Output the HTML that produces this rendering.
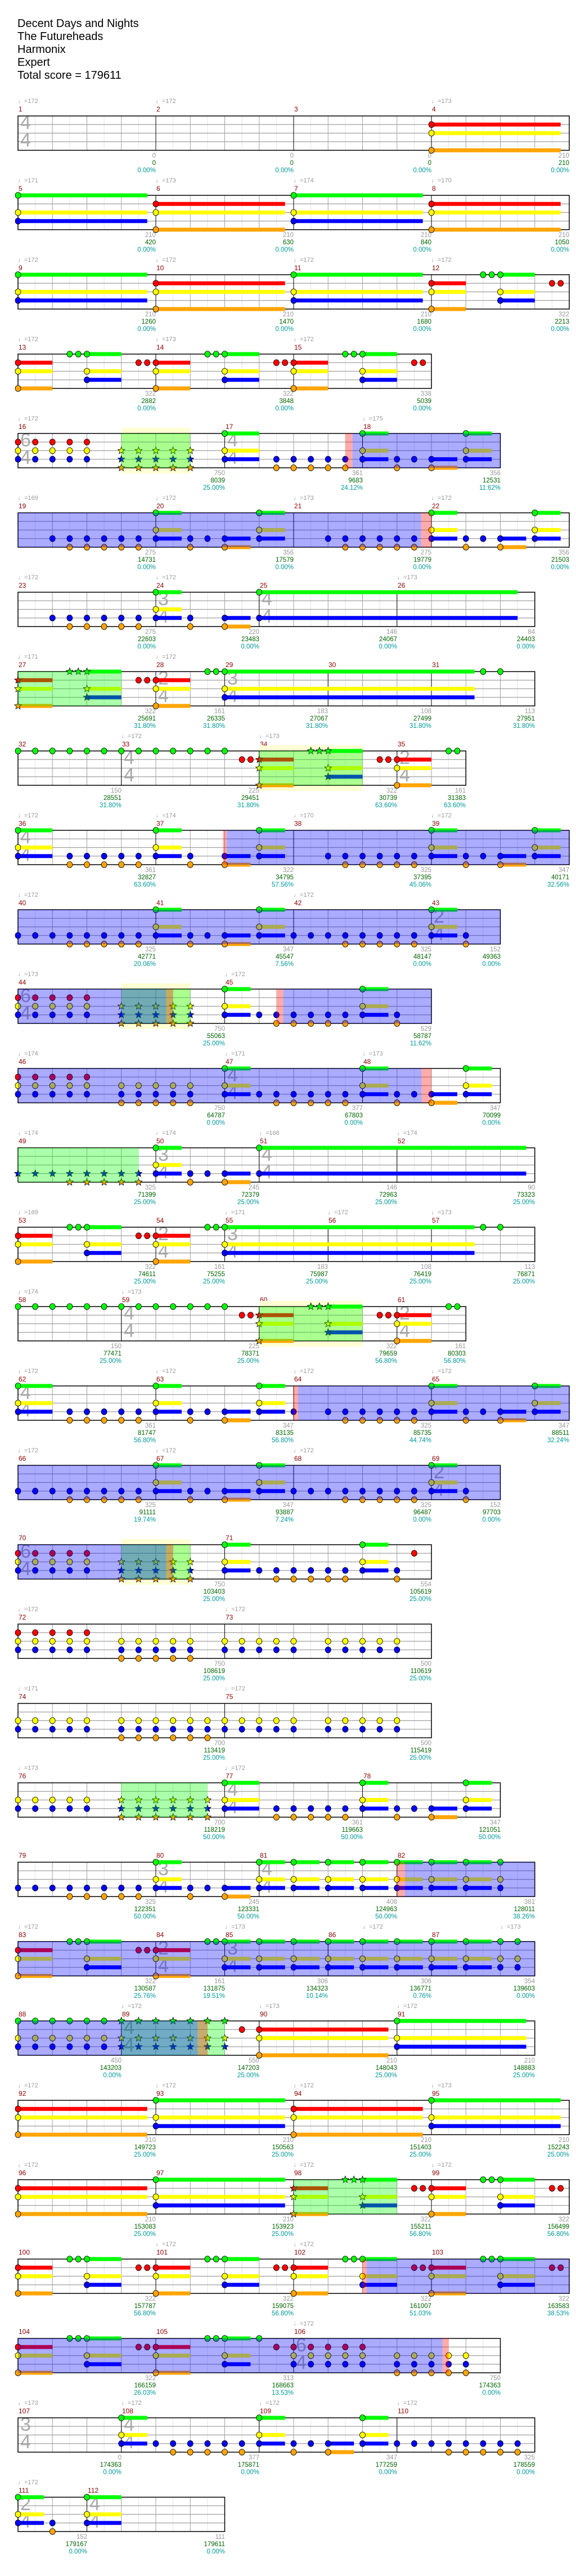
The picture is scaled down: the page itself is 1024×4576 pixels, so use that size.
<!DOCTYPE html>
<html><head><meta charset="utf-8">
<style>
body{margin:0;background:#fff}
#pg{position:relative;width:1024px;height:4576px;overflow:hidden;background:#fff;font-family:"Liberation Sans Narrow","Liberation Sans",sans-serif}
#ttl{position:absolute;left:31px;top:31px;font-size:20px;line-height:23px;color:#000;font-family:"Liberation Sans",sans-serif}
.r{position:absolute;left:0;width:1024px;height:141px}
.r p{position:absolute;margin:0;white-space:nowrap}
.t{top:-7px;font-size:11px;line-height:13px;color:#999}
.m{top:6px;font-size:12px;line-height:14px;color:#8b0000}
.s{top:90px;font-size:11.5px;line-height:13px;color:#999;text-align:right;transform:translateX(-100%)}
.s i{font-style:normal;color:#006400}.s b{font-weight:normal;color:#009999}
.r div.ts{position:absolute;top:22px;font-size:34px;line-height:31px;color:#aaa;font-family:"Liberation Sans",sans-serif}
#sv{position:absolute;left:0;top:0}
</style></head><body><div id="pg">
<div id="ttl">Decent Days and Nights<br>The Futureheads<br>Harmonix<br>Expert<br>Total score = 179611</div>

<div class="r" style="top:181px"><div class="ts" style="left:36px">4<br>4</div>
<p class="t" style="left:32px">♩=172</p><p class="t" style="left:277px">♩=172</p><p class="t" style="left:767px">♩=173</p>
<p class="m" style="left:33px">1</p><p class="m" style="left:278px">2</p><p class="m" style="left:523px">3</p><p class="m" style="left:768px">4</p>
<p class="s" style="left:277px">0<br><i>0</i><br><b>0.00%</b></p><p class="s" style="left:522px">0<br><i>0</i><br><b>0.00%</b></p><p class="s" style="left:767px">0<br><i>0</i><br><b>0.00%</b></p><p class="s" style="left:1012px">210<br><i>210</i><br><b>0.00%</b></p></div>

<div class="r" style="top:322px">
<p class="t" style="left:32px">♩=171</p><p class="t" style="left:277px">♩=173</p><p class="t" style="left:522px">♩=174</p><p class="t" style="left:767px">♩=170</p>
<p class="m" style="left:33px">5</p><p class="m" style="left:278px">6</p><p class="m" style="left:523px">7</p><p class="m" style="left:768px">8</p>
<p class="s" style="left:277px">210<br><i>420</i><br><b>0.00%</b></p><p class="s" style="left:522px">210<br><i>630</i><br><b>0.00%</b></p><p class="s" style="left:767px">210<br><i>840</i><br><b>0.00%</b></p><p class="s" style="left:1012px">210<br><i>1050</i><br><b>0.00%</b></p></div>

<div class="r" style="top:463px">
<p class="t" style="left:32px">♩=172</p><p class="t" style="left:277px">♩=172</p><p class="t" style="left:522px">♩=172</p><p class="t" style="left:767px">♩=172</p>
<p class="m" style="left:33px">9</p><p class="m" style="left:278px">10</p><p class="m" style="left:523px">11</p><p class="m" style="left:768px">12</p>
<p class="s" style="left:277px">210<br><i>1260</i><br><b>0.00%</b></p><p class="s" style="left:522px">210<br><i>1470</i><br><b>0.00%</b></p><p class="s" style="left:767px">210<br><i>1680</i><br><b>0.00%</b></p><p class="s" style="left:1012px">322<br><i>2213</i><br><b>0.00%</b></p></div>

<div class="r" style="top:604px">
<p class="t" style="left:32px">♩=172</p><p class="t" style="left:277px">♩=173</p><p class="t" style="left:522px">♩=172</p>
<p class="m" style="left:33px">13</p><p class="m" style="left:278px">14</p><p class="m" style="left:523px">15</p>
<p class="s" style="left:277px">322<br><i>2882</i><br><b>0.00%</b></p><p class="s" style="left:522px">322<br><i>3848</i><br><b>0.00%</b></p><p class="s" style="left:767px">338<br><i>5039</i><br><b>0.00%</b></p></div>

<div class="r" style="top:745px"><div class="ts" style="left:36px">6<br>4</div><div class="ts" style="left:404px">4<br>4</div>
<p class="t" style="left:32px">♩=172</p><p class="t" style="left:645px">♩=175</p>
<p class="m" style="left:33px">16</p><p class="m" style="left:401px">17</p><p class="m" style="left:646px">18</p>
<p class="s" style="left:400px">750<br><i>8039</i><br><b>25.00%</b></p><p class="s" style="left:645px">361<br><i>9683</i><br><b>24.12%</b></p><p class="s" style="left:890px">356<br><i>12531</i><br><b>11.62%</b></p></div>

<div class="r" style="top:886px">
<p class="t" style="left:32px">♩=169</p><p class="t" style="left:277px">♩=172</p><p class="t" style="left:522px">♩=173</p><p class="t" style="left:767px">♩=172</p>
<p class="m" style="left:33px">19</p><p class="m" style="left:278px">20</p><p class="m" style="left:523px">21</p><p class="m" style="left:768px">22</p>
<p class="s" style="left:277px">275<br><i>14731</i><br><b>0.00%</b></p><p class="s" style="left:522px">356<br><i>17579</i><br><b>0.00%</b></p><p class="s" style="left:767px">275<br><i>19779</i><br><b>0.00%</b></p><p class="s" style="left:1012px">356<br><i>21503</i><br><b>0.00%</b></p></div>

<div class="r" style="top:1027px"><div class="ts" style="left:281px">3<br>4</div><div class="ts" style="left:465px">4<br>4</div>
<p class="t" style="left:32px">♩=172</p><p class="t" style="left:277px">♩=172</p><p class="t" style="left:706px">♩=173</p>
<p class="m" style="left:33px">23</p><p class="m" style="left:278px">24</p><p class="m" style="left:462px">25</p><p class="m" style="left:707px">26</p>
<p class="s" style="left:277px">275<br><i>22603</i><br><b>0.00%</b></p><p class="s" style="left:461px">220<br><i>23483</i><br><b>0.00%</b></p><p class="s" style="left:706px">146<br><i>24067</i><br><b>0.00%</b></p><p class="s" style="left:951px">84<br><i>24403</i><br><b>0.00%</b></p></div>

<div class="r" style="top:1168px"><div class="ts" style="left:281px">2<br>4</div><div class="ts" style="left:404px">3<br>4</div>
<p class="t" style="left:32px">♩=171</p><p class="t" style="left:277px">♩=172</p>
<p class="m" style="left:33px">27</p><p class="m" style="left:278px">28</p><p class="m" style="left:401px">29</p><p class="m" style="left:584px">30</p><p class="m" style="left:768px">31</p>
<p class="s" style="left:277px">322<br><i>25691</i><br><b>31.80%</b></p><p class="s" style="left:400px">161<br><i>26335</i><br><b>31.80%</b></p><p class="s" style="left:583px">183<br><i>27067</i><br><b>31.80%</b></p><p class="s" style="left:767px">108<br><i>27499</i><br><b>31.80%</b></p><p class="s" style="left:951px">113<br><i>27951</i><br><b>31.80%</b></p></div>

<div class="r" style="top:1309px"><div class="ts" style="left:220px">4<br>4</div><div class="ts" style="left:710px">2<br>4</div>
<p class="t" style="left:216px">♩=172</p><p class="t" style="left:461px">♩=173</p>
<p class="m" style="left:33px">32</p><p class="m" style="left:217px">33</p><p class="m" style="left:462px">34</p><p class="m" style="left:707px">35</p>
<p class="s" style="left:216px">150<br><i>28551</i><br><b>31.80%</b></p><p class="s" style="left:461px">225<br><i>29451</i><br><b>31.80%</b></p><p class="s" style="left:706px">322<br><i>30739</i><br><b>63.60%</b></p><p class="s" style="left:828px">161<br><i>31383</i><br><b>63.60%</b></p></div>

<div class="r" style="top:1450px"><div class="ts" style="left:36px">4<br>4</div>
<p class="t" style="left:32px">♩=172</p><p class="t" style="left:277px">♩=174</p><p class="t" style="left:522px">♩=170</p><p class="t" style="left:767px">♩=172</p>
<p class="m" style="left:33px">36</p><p class="m" style="left:278px">37</p><p class="m" style="left:523px">38</p><p class="m" style="left:768px">39</p>
<p class="s" style="left:277px">361<br><i>32827</i><br><b>63.60%</b></p><p class="s" style="left:522px">322<br><i>34795</i><br><b>57.56%</b></p><p class="s" style="left:767px">325<br><i>37395</i><br><b>45.06%</b></p><p class="s" style="left:1012px">347<br><i>40171</i><br><b>32.56%</b></p></div>

<div class="r" style="top:1591px"><div class="ts" style="left:771px">2<br>4</div>
<p class="t" style="left:32px">♩=172</p><p class="t" style="left:522px">♩=172</p>
<p class="m" style="left:33px">40</p><p class="m" style="left:278px">41</p><p class="m" style="left:523px">42</p><p class="m" style="left:768px">43</p>
<p class="s" style="left:277px">325<br><i>42771</i><br><b>20.06%</b></p><p class="s" style="left:522px">347<br><i>45547</i><br><b>7.56%</b></p><p class="s" style="left:767px">325<br><i>48147</i><br><b>0.00%</b></p><p class="s" style="left:890px">152<br><i>49363</i><br><b>0.00%</b></p></div>

<div class="r" style="top:1732px"><div class="ts" style="left:36px">6<br>4</div>
<p class="t" style="left:32px">♩=173</p><p class="t" style="left:400px">♩=172</p>
<p class="m" style="left:33px">44</p><p class="m" style="left:401px">45</p>
<p class="s" style="left:400px">750<br><i>55063</i><br><b>25.00%</b></p><p class="s" style="left:767px">529<br><i>58787</i><br><b>11.62%</b></p></div>

<div class="r" style="top:1873px"><div class="ts" style="left:404px">4<br>4</div>
<p class="t" style="left:32px">♩=174</p><p class="t" style="left:400px">♩=171</p><p class="t" style="left:645px">♩=173</p>
<p class="m" style="left:33px">46</p><p class="m" style="left:401px">47</p><p class="m" style="left:646px">48</p>
<p class="s" style="left:400px">750<br><i>64787</i><br><b>0.00%</b></p><p class="s" style="left:645px">377<br><i>67803</i><br><b>0.00%</b></p><p class="s" style="left:890px">347<br><i>70099</i><br><b>0.00%</b></p></div>

<div class="r" style="top:2014px"><div class="ts" style="left:281px">3<br>4</div><div class="ts" style="left:465px">4<br>4</div>
<p class="t" style="left:32px">♩=174</p><p class="t" style="left:277px">♩=174</p><p class="t" style="left:461px">♩=168</p><p class="t" style="left:706px">♩=174</p>
<p class="m" style="left:33px">49</p><p class="m" style="left:278px">50</p><p class="m" style="left:462px">51</p><p class="m" style="left:707px">52</p>
<p class="s" style="left:277px">325<br><i>71399</i><br><b>25.00%</b></p><p class="s" style="left:461px">245<br><i>72379</i><br><b>25.00%</b></p><p class="s" style="left:706px">146<br><i>72963</i><br><b>25.00%</b></p><p class="s" style="left:951px">90<br><i>73323</i><br><b>25.00%</b></p></div>

<div class="r" style="top:2155px"><div class="ts" style="left:281px">2<br>4</div><div class="ts" style="left:404px">3<br>4</div>
<p class="t" style="left:32px">♩=169</p><p class="t" style="left:400px">♩=171</p><p class="t" style="left:583px">♩=172</p><p class="t" style="left:767px">♩=173</p>
<p class="m" style="left:33px">53</p><p class="m" style="left:278px">54</p><p class="m" style="left:401px">55</p><p class="m" style="left:584px">56</p><p class="m" style="left:768px">57</p>
<p class="s" style="left:277px">322<br><i>74611</i><br><b>25.00%</b></p><p class="s" style="left:400px">161<br><i>75255</i><br><b>25.00%</b></p><p class="s" style="left:583px">183<br><i>75987</i><br><b>25.00%</b></p><p class="s" style="left:767px">108<br><i>76419</i><br><b>25.00%</b></p><p class="s" style="left:951px">113<br><i>76871</i><br><b>25.00%</b></p></div>

<div class="r" style="top:2296px"><div class="ts" style="left:220px">4<br>4</div><div class="ts" style="left:710px">2<br>4</div>
<p class="t" style="left:32px">♩=174</p><p class="t" style="left:216px">♩=173</p>
<p class="m" style="left:33px">58</p><p class="m" style="left:217px">59</p><p class="m" style="left:462px">60</p><p class="m" style="left:707px">61</p>
<p class="s" style="left:216px">150<br><i>77471</i><br><b>25.00%</b></p><p class="s" style="left:461px">225<br><i>78371</i><br><b>25.00%</b></p><p class="s" style="left:706px">322<br><i>79659</i><br><b>56.80%</b></p><p class="s" style="left:828px">161<br><i>80303</i><br><b>56.80%</b></p></div>

<div class="r" style="top:2437px"><div class="ts" style="left:36px">4<br>4</div>
<p class="t" style="left:32px">♩=172</p><p class="t" style="left:277px">♩=172</p><p class="t" style="left:522px">♩=172</p><p class="t" style="left:767px">♩=172</p>
<p class="m" style="left:33px">62</p><p class="m" style="left:278px">63</p><p class="m" style="left:523px">64</p><p class="m" style="left:768px">65</p>
<p class="s" style="left:277px">361<br><i>81747</i><br><b>56.80%</b></p><p class="s" style="left:522px">347<br><i>83135</i><br><b>56.80%</b></p><p class="s" style="left:767px">325<br><i>85735</i><br><b>44.74%</b></p><p class="s" style="left:1012px">347<br><i>88511</i><br><b>32.24%</b></p></div>

<div class="r" style="top:2578px"><div class="ts" style="left:771px">2<br>4</div>
<p class="t" style="left:32px">♩=172</p><p class="t" style="left:277px">♩=172</p><p class="t" style="left:522px">♩=172</p>
<p class="m" style="left:33px">66</p><p class="m" style="left:278px">67</p><p class="m" style="left:523px">68</p><p class="m" style="left:768px">69</p>
<p class="s" style="left:277px">325<br><i>91111</i><br><b>19.74%</b></p><p class="s" style="left:522px">347<br><i>93887</i><br><b>7.24%</b></p><p class="s" style="left:767px">325<br><i>96487</i><br><b>0.00%</b></p><p class="s" style="left:890px">152<br><i>97703</i><br><b>0.00%</b></p></div>

<div class="r" style="top:2719px"><div class="ts" style="left:36px">6<br>4</div>
<p class="m" style="left:33px">70</p><p class="m" style="left:401px">71</p>
<p class="s" style="left:400px">750<br><i>103403</i><br><b>25.00%</b></p><p class="s" style="left:767px">554<br><i>105619</i><br><b>25.00%</b></p></div>

<div class="r" style="top:2860px">
<p class="t" style="left:32px">♩=172</p><p class="t" style="left:400px">♩=172</p>
<p class="m" style="left:33px">72</p><p class="m" style="left:401px">73</p>
<p class="s" style="left:400px">750<br><i>108619</i><br><b>25.00%</b></p><p class="s" style="left:767px">500<br><i>110619</i><br><b>25.00%</b></p></div>

<div class="r" style="top:3001px">
<p class="t" style="left:32px">♩=171</p><p class="t" style="left:400px">♩=172</p>
<p class="m" style="left:33px">74</p><p class="m" style="left:401px">75</p>
<p class="s" style="left:400px">700<br><i>113419</i><br><b>25.00%</b></p><p class="s" style="left:767px">500<br><i>115419</i><br><b>25.00%</b></p></div>

<div class="r" style="top:3142px"><div class="ts" style="left:404px">4<br>4</div>
<p class="t" style="left:32px">♩=173</p><p class="t" style="left:400px">♩=172</p>
<p class="m" style="left:33px">76</p><p class="m" style="left:401px">77</p><p class="m" style="left:646px">78</p>
<p class="s" style="left:400px">700<br><i>118219</i><br><b>50.00%</b></p><p class="s" style="left:645px">361<br><i>119663</i><br><b>50.00%</b></p><p class="s" style="left:890px">347<br><i>121051</i><br><b>50.00%</b></p></div>

<div class="r" style="top:3283px"><div class="ts" style="left:281px">3<br>4</div><div class="ts" style="left:465px">4<br>4</div>
<p class="m" style="left:33px">79</p><p class="m" style="left:278px">80</p><p class="m" style="left:462px">81</p><p class="m" style="left:707px">82</p>
<p class="s" style="left:277px">325<br><i>122351</i><br><b>50.00%</b></p><p class="s" style="left:461px">245<br><i>123331</i><br><b>50.00%</b></p><p class="s" style="left:706px">408<br><i>124963</i><br><b>50.00%</b></p><p class="s" style="left:951px">381<br><i>128011</i><br><b>38.26%</b></p></div>

<div class="r" style="top:3424px"><div class="ts" style="left:281px">2<br>4</div><div class="ts" style="left:404px">3<br>4</div>
<p class="t" style="left:32px">♩=172</p><p class="t" style="left:400px">♩=173</p><p class="t" style="left:645px">♩=172</p><p class="t" style="left:890px">♩=173</p>
<p class="m" style="left:33px">83</p><p class="m" style="left:278px">84</p><p class="m" style="left:401px">85</p><p class="m" style="left:584px">86</p><p class="m" style="left:768px">87</p>
<p class="s" style="left:277px">322<br><i>130587</i><br><b>25.76%</b></p><p class="s" style="left:400px">161<br><i>131875</i><br><b>19.51%</b></p><p class="s" style="left:583px">306<br><i>134323</i><br><b>10.14%</b></p><p class="s" style="left:767px">306<br><i>136771</i><br><b>0.76%</b></p><p class="s" style="left:951px">354<br><i>139603</i><br><b>0.00%</b></p></div>

<div class="r" style="top:3565px"><div class="ts" style="left:220px">4<br>4</div>
<p class="t" style="left:216px">♩=172</p><p class="t" style="left:461px">♩=173</p><p class="t" style="left:706px">♩=172</p>
<p class="m" style="left:33px">88</p><p class="m" style="left:217px">89</p><p class="m" style="left:462px">90</p><p class="m" style="left:707px">91</p>
<p class="s" style="left:216px">450<br><i>143203</i><br><b>0.00%</b></p><p class="s" style="left:461px">550<br><i>147203</i><br><b>25.00%</b></p><p class="s" style="left:706px">210<br><i>148043</i><br><b>25.00%</b></p><p class="s" style="left:951px">210<br><i>148883</i><br><b>25.00%</b></p></div>

<div class="r" style="top:3706px">
<p class="t" style="left:32px">♩=172</p><p class="t" style="left:277px">♩=172</p><p class="t" style="left:522px">♩=172</p><p class="t" style="left:767px">♩=173</p>
<p class="m" style="left:33px">92</p><p class="m" style="left:278px">93</p><p class="m" style="left:523px">94</p><p class="m" style="left:768px">95</p>
<p class="s" style="left:277px">210<br><i>149723</i><br><b>25.00%</b></p><p class="s" style="left:522px">210<br><i>150563</i><br><b>25.00%</b></p><p class="s" style="left:767px">210<br><i>151403</i><br><b>25.00%</b></p><p class="s" style="left:1012px">210<br><i>152243</i><br><b>25.00%</b></p></div>

<div class="r" style="top:3847px">
<p class="t" style="left:32px">♩=172</p><p class="t" style="left:522px">♩=172</p><p class="t" style="left:767px">♩=172</p>
<p class="m" style="left:33px">96</p><p class="m" style="left:278px">97</p><p class="m" style="left:523px">98</p><p class="m" style="left:768px">99</p>
<p class="s" style="left:277px">210<br><i>153083</i><br><b>25.00%</b></p><p class="s" style="left:522px">210<br><i>153923</i><br><b>25.00%</b></p><p class="s" style="left:767px">322<br><i>155211</i><br><b>56.80%</b></p><p class="s" style="left:1012px">322<br><i>156499</i><br><b>56.80%</b></p></div>

<div class="r" style="top:3988px">
<p class="t" style="left:277px">♩=172</p><p class="t" style="left:522px">♩=172</p>
<p class="m" style="left:33px">100</p><p class="m" style="left:278px">101</p><p class="m" style="left:523px">102</p><p class="m" style="left:768px">103</p>
<p class="s" style="left:277px">322<br><i>157787</i><br><b>56.80%</b></p><p class="s" style="left:522px">322<br><i>159075</i><br><b>56.80%</b></p><p class="s" style="left:767px">322<br><i>161007</i><br><b>51.03%</b></p><p class="s" style="left:1012px">322<br><i>163583</i><br><b>38.53%</b></p></div>

<div class="r" style="top:4129px"><div class="ts" style="left:526px">6<br>4</div>
<p class="t" style="left:522px">♩=172</p>
<p class="m" style="left:33px">104</p><p class="m" style="left:278px">105</p><p class="m" style="left:523px">106</p>
<p class="s" style="left:277px">322<br><i>166159</i><br><b>26.03%</b></p><p class="s" style="left:522px">313<br><i>168663</i><br><b>13.53%</b></p><p class="s" style="left:890px">750<br><i>174363</i><br><b>0.00%</b></p></div>

<div class="r" style="top:4270px"><div class="ts" style="left:36px">3<br>4</div><div class="ts" style="left:220px">4<br>4</div>
<p class="t" style="left:32px">♩=173</p><p class="t" style="left:216px">♩=172</p><p class="t" style="left:461px">♩=172</p><p class="t" style="left:706px">♩=172</p>
<p class="m" style="left:33px">107</p><p class="m" style="left:217px">108</p><p class="m" style="left:462px">109</p><p class="m" style="left:707px">110</p>
<p class="s" style="left:216px">0<br><i>174363</i><br><b>0.00%</b></p><p class="s" style="left:461px">377<br><i>175871</i><br><b>0.00%</b></p><p class="s" style="left:706px">347<br><i>177259</i><br><b>0.00%</b></p><p class="s" style="left:951px">325<br><i>178559</i><br><b>0.00%</b></p></div>

<div class="r" style="top:4411px"><div class="ts" style="left:36px">2<br>4</div><div class="ts" style="left:159px">4<br>4</div>
<p class="t" style="left:32px">♩=172</p>
<p class="m" style="left:33px">111</p><p class="m" style="left:156px">112</p>
<p class="s" style="left:155px">152<br><i>179167</i><br><b>0.00%</b></p><p class="s" style="left:400px">111<br><i>179611</i><br><b>0.00%</b></p></div>

<svg id="sv" width="1024" height="4576" xmlns="http://www.w3.org/2000/svg"></svg>
</div>
<script>
(function(){
const X=b=>32+61.25*b;
const A=o=>` B${o+1}~${o+3.5} O${o+1.5}~${o+3.5} `;
const P=o=>` GYB${o}:.75 B${o+1} B${o+1.5} O${o+1} BO${o+2}:.75 GYB${o+3}:.75 `;
const H=(o,s='')=>` ${s}RYO${o}:1 ${s}G${o+1.5} ${s}G${o+1.75} ${s}GYB${o+2}:1 R${o+3.5} R${o+3.75} `;
const R8="G0~6 R6.5 R6.75 "+H(7,'*')+" RYO11:1 G12.5 G12.75";
let g81="";for(let b=7;b<=13;b++)g81+=` GYB${b}:.75`;
let g85="";for(let b=6;b<=13;b++)g85+=` GYB${b}:.75`;
const rows=[
[16,[4,8,12],[],"RYO12:3.75"],
[16,[4,8,12],[],"GYB0:3.75 RYO4:3.75 GYB8:3.75 RYO12:3.75"],
[16,[4,8,12],[],"GYB0:3.75 RYO4:3.75 GYB8:3.75"+H(12)],
[12,[4,8],[],H(0)+H(4)+H(8)],
[14,[6,10],[['y',3,5],['g',3,5],['p',9.5,9.71],['b',9.71,14]],"RYB0~2 *YBO3~5 GYB6:1 BO7.5~9.5"+P(10)],
[16,[4,8,12],[['b',0,11.7],['p',11.7,12]],A(0)+P(4)+A(8)+P(12)],
[15,[4,7,11],[],A(0)+"GYB4:.75 B5 O5 BO6:.75 GB7:7.5"],
[15,[4,6,9,12],[['g',0,3]],H(0,'*')+"RYO4:1 G5.5 G5.75 GYB6:7.25 G13.5 G14"],
[13,[3,7,11],[['y',7,10],['g',7,10]],R8],
[16,[4,8,12],[['p',5.95,6.06],['b',6.06,16]],"GYB0:1 B1.5~3.5 O1.5~3.5 GYB4:.75 B5 O5 BO6:.75 GYB7:.75"+A(8)+P(12)],
[14,[4,8,12],[['b',0,14]],"B0~3.5 O1.5~3.5"+P(4)+"B8~11.5 O9.5~11.5 GYB12:.75 B13 O13"],
[12,[6],[['y',3,5],['g',3,5],['b',0,4.3],['p',4.3,4.5],['p',7.5,7.7],['b',7.7,12]],"RYB0~2 *YBO3~5 GYB6:.75 B7 B7.5 BO8~9.5 O7.5 GYB10:.75 B11 O11"],
[14,[6,10],[['b',0,11.71],['p',11.71,12]],"RYB0~2 YBO3~5 GYB6:.75 B7~9.5 O7.5~9.5"+P(10)],
[15,[4,7,11],[['g',0,3.5]],"*B0~3.5 *O1.5~3.5 GYB4:.75 B5 B5.5 O5 BO6:.75 GB7:7.75"],
[15,[4,6,9,12],[],H(0)+"RYO4:1 G5.5 G5.75 GYB6:7.25 G13.5 G14"],
[13,[3,7,11],[['y',7,10],['g',7,10]],R8],
[16,[4,8,12],[['p',7.99,8.13],['b',8.13,16]],"GYB0:1 B1.5~3.5 O1.5~3.5 GYB4:.75 B5 B5.5 O5 BO6:.75 GYB7:.75 B8"+A(8)+P(12)],
[14,[4,8,12],[['b',0,14]],"B0~3.5 O1.5~3.5"+P(4)+"B8~11.5 O9.5~11.5 GYB12:.75 B13 O13"],
[12,[6],[['y',3,5],['g',3,5],['b',0,4.3],['p',4.3,4.5]],"RYB0~2 *YBO3~5 GYB6:.75 B7~9.5 O7.5~9.5 GYB10:.75 B11 O11 R11.5"],
[12,[6],[],"RYB0~2 YBO3~5 YB6~8 YB9~11"],
[12,[6],[],"YB0~2 YBO3~5.5 YB6~8 YB9~11"],
[14,[6,10],[['g',3,5.5]],"YB0~2 *YBO3~5.5 GYB6:1 B7.5~9.5 O7.5~9.5"+P(10)],
[15,[4,7,11],[['p',11,11.23],['b',11.23,15]],"B0~3.5 O1.5~3.5 GYB4:.75 B5 B5.5 O5 BO6:.75"+g81+" GYB14"],
[15,[4,6,9,12],[['b',0,15]],H(0)+"RYO4:1 G5.5 G5.75"+g85+" GYB14 GYB14.5"],
[15,[3,7,11],[['g',3,6],['b',0,5.21],['p',5.21,5.5]],"GYB0~2.5 *GYB3~6 R6.5 RYO7:3.75 GYB11:3.75"],
[16,[4,8,12],[],"RYO0:3.75 GYB4:3.75 RYO8:3.75 GYB12:3.75"],
[16,[4,8,12],[['g',8,11]],"RYO0:3.75 GYB4:3.75"+H(8,'*')+H(12)],
[16,[4,8,12],[['p',9.99,10.12],['b',10.12,16]],H(0)+H(4)+H(8)+H(12)],
[14,[4,8],[['b',0,12.32],['p',12.32,12.5]],H(0)+"RYO4:1 G5.5 G5.75 GYB6:.75 G7 R7.5 RYB8~10 YBO11~12 YBO12.5 YBO13"],
[15,[3,7,11],[],"GYB3:.75 B4~6.5 O4.5~6.5 GYB7:.75 B8 B8.5 O8 BO9:.75 GYB10:.75 B11~14.5 O12.5~14.5"],
[6,[2],[],"GYB0:.75 B1 O1 GYB2:1"]
];
const COL={G:'#00ff00',R:'#ff0000',Y:'#ffff00',B:'#0000ff',O:'#ffa500'};
const LN={G:0,R:1,Y:2,B:3,O:4};
function star(cx,cy,fill){let p=[];for(let k=0;k<10;k++){const a=-Math.PI/2+k*Math.PI/5,rr=k%2?2.8:6.5;p.push((cx+rr*Math.cos(a)).toFixed(1)+','+(cy+rr*Math.sin(a)).toFixed(1));}return `<polygon points="${p.join(' ')}" fill="${fill}" stroke="#000" stroke-width=".8"/>`;}
let s='';
rows.forEach((r,i)=>{
 const [nb,ml,reg,notes]=r;const T=181+141*i,S=T+25,H6=61,W=X(nb)-32;
 reg.filter(q=>q[0]=='y').forEach(q=>{s+=`<rect x="${X(q[1])}" y="${S-10}" width="${X(q[2])-X(q[1])}" height="${H6+20}" fill="#ffffd4"/>`;});
 s+=`<rect x="32" y="${S}" width="${W}" height="${H6}" fill="#fff" fill-opacity="0"/>`;
 for(let h=1;h<nb*2;h++){const x=32+30.625*h;s+=`<line x1="${x}" y1="${S}" x2="${x}" y2="${S+H6}" stroke="${h%2?'#e4e4e4':'#a0a0a0'}" stroke-width="1"/>`;}
 for(let k=1;k<4;k++){const y=S+15.25*k;s+=`<line x1="32" y1="${y}" x2="${32+W}" y2="${y}" stroke="#a0a0a0" stroke-width="1.3"/>`;}
 ml.forEach(b=>{s+=`<line x1="${X(b)}" y1="${S}" x2="${X(b)}" y2="${S+H6}" stroke="#000" stroke-width="1"/>`;});
 s+=`<rect x="32" y="${S}" width="${W}" height="${H6}" fill="none" stroke="#000" stroke-width="1.5"/>`;
 const list=[];
 notes.trim().split(/\s+/).forEach(tok=>{const m=tok.match(/^(\*?)([GRYBO]+)([\d.]+)(?:~([\d.]+))?(?::([\d.]+))?$/);if(!m)return;
  const st=!!m[1],b0=+m[3],b1=m[4]?+m[4]:b0,len=m[5]?+m[5]:0;
  for(let b=b0;b<=b1+1e-6;b+=.5)for(const l of m[2])list.push([l,b,len,st]);});
 list.forEach(n=>{if(n[2]>0){const y=S+15.25*LN[n[0]];s+=`<rect x="${X(n[1])}" y="${y-3.5}" width="${61.25*n[2]}" height="7" fill="${COL[n[0]]}"/>`;}});
 list.forEach(n=>{const y=S+15.25*LN[n[0]],x=X(n[1]);s+=n[3]?star(x,y,COL[n[0]]):`<ellipse cx="${x}" cy="${y}" rx="5" ry="5.4" fill="${COL[n[0]]}" stroke="#000" stroke-width=".8"/>`;});
 reg.filter(q=>q[0]!='y').forEach(q=>{const c=q[0]=='b'?'#0000ff':q[0]=='g'?'#00ff00':'#ff0000';s+=`<rect x="${X(q[1])}" y="${S}" width="${X(q[2])-X(q[1])}" height="${H6}" fill="${c}" fill-opacity=".33"/>`;});
});
document.getElementById('sv').innerHTML=s;
})();
</script>
</body></html>
